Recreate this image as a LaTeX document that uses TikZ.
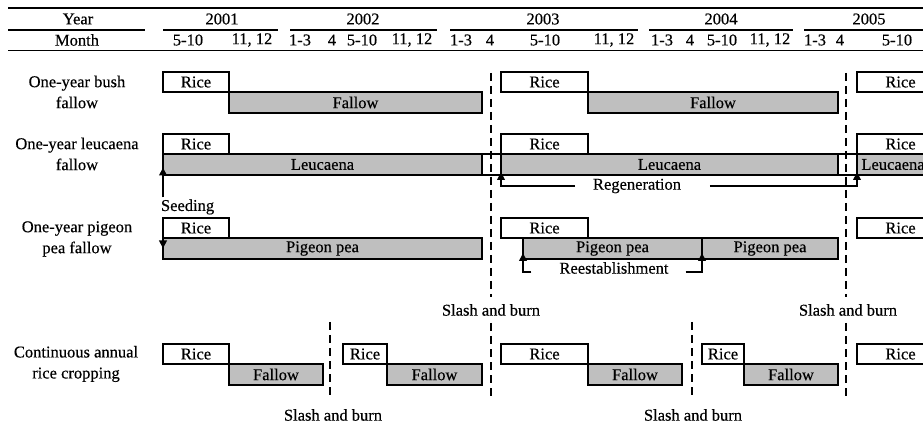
\documentclass[tikz,border=0pt]{standalone}
\usepackage{fontspec}
\setmainfont{Liberation Serif}[FakeBold=0.4]
\usetikzlibrary{arrows.meta}

\begin{document}
\begin{tikzpicture}[
    x=1pt, y=-1pt,
    every node/.style={font=\fontsize{16.5}{21}\selectfont, outer sep=0pt},
    rice/.style={draw, fill=white, line width=1.3pt, minimum height=20pt, inner sep=0pt, anchor=north west},
    crop/.style={draw, fill=black!25, line width=1.3pt, minimum height=21pt, inner sep=0pt, anchor=north west},
    gap/.style={draw, fill=white, line width=1.3pt, minimum height=21pt, minimum width=19pt, inner sep=0pt, anchor=north west},
    burn/.style={line width=2.6pt, dash pattern=on 8pt off 5pt},
    arr/.style={-{Triangle[length=8pt, width=7.5pt]}, line width=2pt},
    rowlbl/.style={align=center},
    lbl/.style={inner sep=2pt}
]
\useasboundingbox (0,0) rectangle (923,443);
\clip (0,0) rectangle (923,443);

% header
\draw[line width=2.4pt] (8,8) -- (923,8);
\draw[line width=1.4pt] (8,30) -- (145,30) (163,30) -- (278,30) (290,30) -- (437,30)
    (450,30) -- (638,30) (649,30) -- (793,30) (804,30) -- (923,30);
\draw[line width=0.9pt] (8,50) -- (923,50);
\node (Yr) at (78,19) {Year};
\node (Mo) at (77,40) {Month};
\node (Y1) at (222,19) {2001};
\node (Y2) at (363,19) {2002};
\node (Y3) at (543,19) {2003};
\node (Y4) at (721,19) {2004};
\node (Y5) at (869,19) {2005};
\node (m1) at (188,40) {5-10};  \node (m2) at (252,40) {11, 12};
\node (m3) at (300,40) {1-3};   \node (m4) at (332,40) {4};
\node (m5) at (362,40) {5-10};  \node (m6) at (412,40) {11, 12};
\node (m7) at (461,40) {1-3};   \node (m8) at (490,40) {4};
\node (m9) at (545,40) {5-10};  \node (m10) at (614,40) {11, 12};
\node (m11) at (662,40) {1-3};  \node (m12) at (690,40) {4};
\node (m13) at (722,40) {5-10}; \node (m14) at (770,40) {11, 12};
\node (m15) at (815,40) {1-3};  \node (m16) at (840,40) {4};
\node (m17) at (897,40) {5-10};

% one-year bush fallow
\node[rowlbl] (T1) at (77,92) {One-year bush\\fallow};
\node[rice, minimum width=66pt] (R1a) at (163,72) {Rice};
\node[crop, minimum width=253pt] (F1a) at (229,92) {Fallow};
\node[rice, minimum width=87pt] (R1b) at (501,72) {Rice};
\node[crop, minimum width=250pt] (F1b) at (588,92) {Fallow};
\node[rice, minimum width=87pt] (R1c) at (857,72) {Rice};

% one-year leucaena fallow
\node[rowlbl] (T2) at (77,154) {One-year leucaena\\fallow};
\node[rice, minimum width=66pt] (R2a) at (163,134) {Rice};
\node[crop, minimum width=319pt] (L1) at (163,154) {Leucaena};
\node[gap] (G1) at (482,154) {};
\node[rice, minimum width=87pt] (R2b) at (501,134) {Rice};
\node[crop, minimum width=337pt] (L2) at (501,154) {Leucaena};
\node[gap] (G2) at (838,154) {};
\node[rice, minimum width=87pt] (R2c) at (857,134) {Rice};
\node[crop, minimum width=72pt] (L3) at (857,154) {Leucaena};

% one-year pigeon pea fallow
\node[rowlbl] (T3) at (77,239) {One-year pigeon\\pea fallow};
\node[rice, minimum width=66pt] (R3a) at (163,218) {Rice};
\node[crop, minimum width=319pt] (P1) at (163,238) {Pigeon pea};
\node[rice, minimum width=87pt] (R3b) at (501,218) {Rice};
\node[crop, minimum width=179pt] (P2) at (523,238) {Pigeon pea};
\node[crop, minimum width=136pt] (P3) at (702,238) {Pigeon pea};
\node[rice, minimum width=87pt] (R3c) at (857,218) {Rice};

% continuous annual rice cropping
\node[rowlbl] (T4) at (76,364) {Continuous annual\\rice cropping};
\node[rice, minimum width=66pt] (R4a) at (163,344) {Rice};
\node[crop, minimum width=94pt] (F4a) at (229,364) {Fallow};
\node[rice, minimum width=44pt] (R4b) at (343,344) {Rice};
\node[crop, minimum width=95pt] (F4b) at (387,364) {Fallow};
\node[rice, minimum width=87pt] (R4c) at (501,344) {Rice};
\node[crop, minimum width=94pt] (F4c) at (588,364) {Fallow};
\node[rice, minimum width=42pt] (R4d) at (702,344) {Rice};
\node[crop, minimum width=94pt] (F4d) at (744,364) {Fallow};
\node[rice, minimum width=87pt] (R4e) at (857,344) {Rice};

% slash and burn
\node[lbl] (SB1) at (491,310) {Slash and burn};
\node[lbl] (SB2) at (848,310) {Slash and burn};
\node[lbl] (SB3) at (333,415) {Slash and burn};
\node[lbl] (SB4) at (693,415) {Slash and burn};
\coordinate (t1) at (491,73);  \coordinate (u1) at (491,297);
\coordinate (d1) at (491,323); \coordinate (b1) at (491,396);
\coordinate (t2) at (846,73);  \coordinate (u2) at (846,297);
\coordinate (d2) at (846,323); \coordinate (b2) at (846,396);
\coordinate (t3) at (330,322); \coordinate (b3) at (330,396);
\coordinate (t4) at (692,322); \coordinate (b4) at (692,396);
\draw[burn] (t1) -- (u1);
\draw[burn] (d1) -- (b1);
\draw[burn] (t2) -- (u2);
\draw[burn] (d2) -- (b2);
\draw[burn] (t3) -- (b3);
\draw[burn] (t4) -- (b4);

% arrows
\node[lbl, anchor=west] (Seed) at (159,207) {Seeding};
\draw[arr] (Seed.north -| L1.west) -- ([yshift=-3pt]L1.west);
\draw[arr] (R3a.north west) -- (P1.west);
\node[lbl] (Reg) at (637,186) {Regeneration};
\draw[arr] ([xshift=-16pt]Reg.west) -| ([yshift=3pt]L2.south west);
\draw[arr] ([xshift=27pt]Reg.east) -| ([yshift=3pt]L3.south west);
\node[lbl] (Rest) at (614,268) {Reestablishment};
\draw[arr] ([xshift=-26pt, yshift=-4pt]Rest.west) -| ([yshift=6pt]P2.south west);
\draw[arr] ([xshift=15pt, yshift=-4pt]Rest.east) -| ([yshift=6pt]P3.south west);
\end{tikzpicture}
\end{document}
